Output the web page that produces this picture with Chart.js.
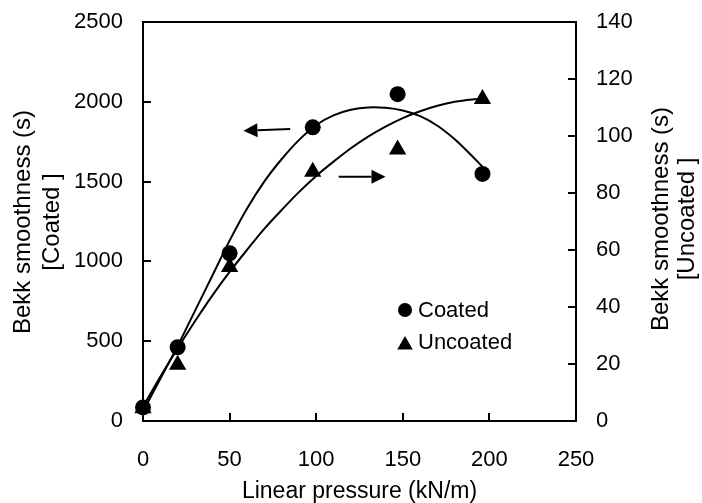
<!DOCTYPE html>
<html>
<head>
<meta charset="utf-8">
<script src="https://cdn.jsdelivr.net/npm/chart.js@4.4.0/dist/chart.umd.min.js"></script>
<style>
    body { margin: 0; background: #fff; }
    #caixa { width: 702px; height: 503px; }
</style>
</head>
<body>
<div id="caixa"><canvas id="grafico"></canvas></div>
<script>
// ==========================
// DADOS
// ==========================
const pressao = [0, 20, 50, 98, 147, 196];              // kN/m
const bekkCoated = [85, 462, 1051, 1840, 2048, 1548];   // s (eixo esquerdo)
const bekkUncoated = [4.5, 19.7, 54, 87.5, 95.3, 113];  // s (eixo direito)

// linhas de tendência
const tendX = [0, 10, 20, 30, 40, 50, 60, 70, 80, 90, 100, 110, 120, 130, 140, 150, 160, 170, 180, 190, 196];
const tendCoated = [60, 265, 470, 690, 910, 1130, 1330, 1500, 1640, 1760, 1855, 1915, 1950, 1965, 1962, 1945, 1910, 1850, 1765, 1660, 1593];
const tendUncoated = [5, 15.5, 25.5, 35, 44, 52.3, 60, 67.4, 74, 80.3, 86, 91, 95.7, 99.8, 103.3, 106.3, 108.7, 110.6, 112, 112.8, 113];

const ticksX = [0, 250, 50];        // min, max, passo
const ticksEsq = [0, 2500, 500];
const ticksDir = [0, 140, 20];

// setas (em unidades do eixo x e do eixo esquerdo)
const setas = [
    { de: [85, 1830], ate: [58, 1819] },
    { de: [113, 1531], ate: [140, 1531] }
];

const FONTE = 'Arial, "Liberation Sans", sans-serif';

function pontos(xs, ys) {
    return xs.map((x, i) => ({ x: x, y: ys[i] }));
}

// ==========================
// PLUGIN: moldura, ticks internos, setas, legenda, títulos
// ==========================
const desenhoExtra = {
    id: 'desenhoExtra',
    afterDatasetsDraw(chart) {
        const { ctx, chartArea: ca, scales } = chart;
        ctx.save();
        ctx.strokeStyle = '#000';
        ctx.fillStyle = '#000';
        ctx.lineWidth = 2;

        // moldura
        ctx.strokeRect(ca.left, ca.top, ca.right - ca.left, ca.bottom - ca.top);

        // ticks para dentro
        ctx.beginPath();
        scales.y.ticks.forEach(t => {
            const py = Math.round(scales.y.getPixelForValue(t.value));
            ctx.moveTo(ca.left, py); ctx.lineTo(ca.left + 8, py);
        });
        scales.y2.ticks.forEach(t => {
            const py = Math.round(scales.y2.getPixelForValue(t.value));
            ctx.moveTo(ca.right, py); ctx.lineTo(ca.right - 8, py);
        });
        scales.x.ticks.forEach(t => {
            const px = Math.round(scales.x.getPixelForValue(t.value));
            ctx.moveTo(px, ca.bottom); ctx.lineTo(px, ca.bottom - 8);
        });
        ctx.stroke();

        // setas
        setas.forEach(s => {
            const x1 = scales.x.getPixelForValue(s.de[0]);
            const y1 = scales.y.getPixelForValue(s.de[1]);
            const x2 = scales.x.getPixelForValue(s.ate[0]);
            const y2 = scales.y.getPixelForValue(s.ate[1]);
            const ang = Math.atan2(y2 - y1, x2 - x1);
            const comp = 14, larg = 7;
            const bx = x2 - comp * Math.cos(ang);
            const by = y2 - comp * Math.sin(ang);
            ctx.beginPath();
            ctx.moveTo(x1, y1); ctx.lineTo(bx, by);
            ctx.stroke();
            ctx.beginPath();
            ctx.moveTo(x2, y2);
            ctx.lineTo(bx + larg * Math.sin(ang), by - larg * Math.cos(ang));
            ctx.lineTo(bx - larg * Math.sin(ang), by + larg * Math.cos(ang));
            ctx.closePath();
            ctx.fill();
        });

        // legenda
        const lx = ca.left + 262, ly = ca.top + 288;
        ctx.beginPath();
        ctx.arc(lx, ly, 7, 0, Math.PI * 2);
        ctx.fill();
        const r = 9, ty = ly + 35;
        ctx.beginPath();
        ctx.moveTo(lx, ty - r);
        ctx.lineTo(lx + r * Math.sin(2 * Math.PI / 3), ty - r * Math.cos(2 * Math.PI / 3));
        ctx.lineTo(lx + r * Math.sin(4 * Math.PI / 3), ty - r * Math.cos(4 * Math.PI / 3));
        ctx.closePath();
        ctx.fill();
        ctx.font = '22px ' + FONTE;
        ctx.textBaseline = 'middle';
        ctx.textAlign = 'left';
        ctx.fillText(chart.data.datasets[0].label, lx + 13, ly + 1);
        ctx.fillText(chart.data.datasets[1].label, lx + 13, ly + 33);

        // títulos dos eixos verticais
        ctx.font = '24px ' + FONTE;
        ctx.textAlign = 'center';
        const titulo = (linhas, xs, yc) => {
            linhas.forEach((txt, i) => {
                ctx.save();
                ctx.translate(xs[i], yc);
                ctx.rotate(-Math.PI / 2);
                ctx.fillText(txt, 0, 0);
                ctx.restore();
            });
        };
        titulo(['Bekk smoothness (s)', '[Coated ]'], [23, 52], 222);
        titulo(['Bekk smoothness (s)', '[Uncoated ]'], [661, 687], 219);
        ctx.restore();
    }
};

// ==========================
// GRÁFICO
// ==========================
const ctx = document.getElementById('grafico');

const semVirgula = (v) => String(v);

// fixa a largura do eixo e tira o espaço extra em cima/embaixo
function fixarEixoY(largura) {
    return (s) => {
        s.width = largura;
        s.paddingTop = 0;
        s.paddingBottom = 0;
    };
}

const grafico = new Chart(ctx, {
    type: 'scatter',
    data: {
        datasets: [
            {
                label: 'Coated',
                data: pontos(pressao, bekkCoated),
                yAxisID: 'y',
                pointStyle: 'circle',
                pointRadius: 8,
                backgroundColor: '#000',
                borderColor: '#000',
                borderWidth: 0,
                clip: false,
                order: 0
            },
            {
                label: 'Uncoated',
                data: pontos(pressao, bekkUncoated),
                yAxisID: 'y2',
                pointStyle: 'triangle',
                pointRadius: 10,
                backgroundColor: '#000',
                borderColor: '#000',
                borderWidth: 0,
                clip: false,
                order: 0
            },
            {
                label: 'tendencia coated',
                data: pontos(tendX, tendCoated),
                yAxisID: 'y',
                showLine: true,
                pointRadius: 0,
                borderColor: '#000',
                borderWidth: 2,
                tension: 0.3,
                order: 1
            },
            {
                label: 'tendencia uncoated',
                data: pontos(tendX, tendUncoated),
                yAxisID: 'y2',
                showLine: true,
                pointRadius: 0,
                borderColor: '#000',
                borderWidth: 2,
                tension: 0.3,
                order: 1
            }
        ]
    },
    options: {
        responsive: true,
        maintainAspectRatio: false,
        animation: false,
        events: [],
        layout: { padding: { top: 22, left: 0, right: 0, bottom: 0 } },
        plugins: {
            legend: { display: false },
            tooltip: { enabled: false }
        },
        scales: {
            x: {
                type: 'linear',
                min: ticksX[0],
                max: ticksX[1],
                grid: { display: false, drawTicks: false },
                border: { display: false },
                ticks: {
                    stepSize: ticksX[2],
                    color: '#000',
                    padding: 26,
                    maxRotation: 0,
                    callback: semVirgula,
                    font: { family: FONTE, size: 22 }
                },
                title: {
                    display: true,
                    text: 'Linear pressure (kN/m)',
                    color: '#000',
                    font: { family: FONTE, size: 23 },
                    padding: { top: 0, bottom: -2 }
                },
                afterFit: (s) => { s.height = 82; }
            },
            y: {
                position: 'left',
                min: ticksEsq[0],
                max: ticksEsq[1],
                grid: { display: false, drawTicks: false },
                border: { display: false },
                ticks: {
                    stepSize: ticksEsq[2],
                    color: '#000',
                    padding: 20,
                    callback: semVirgula,
                    font: { family: FONTE, size: 22 }
                },
                afterFit: fixarEixoY(143)
            },
            y2: {
                position: 'right',
                min: ticksDir[0],
                max: ticksDir[1],
                grid: { display: false, drawTicks: false },
                border: { display: false },
                ticks: {
                    stepSize: ticksDir[2],
                    color: '#000',
                    padding: 20,
                    callback: semVirgula,
                    font: { family: FONTE, size: 22 }
                },
                afterFit: fixarEixoY(126)
            }
        }
    },
    plugins: [desenhoExtra]
});
</script>
</body>
</html>
